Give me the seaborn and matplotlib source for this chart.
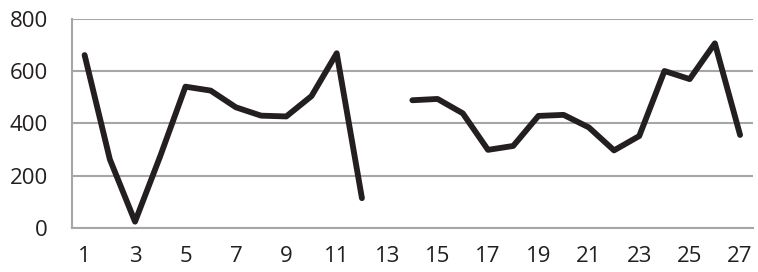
import numpy as np
import pandas as pd
import matplotlib
matplotlib.use("Agg")
import matplotlib.pyplot as plt
from matplotlib.ticker import FixedLocator
import seaborn as sns

# values (13 is missing)
periods = list(range(1, 28))
values = [662, 263, 24, 275, 541, 526, 462, 430, 427, 505, 669, 114, np.nan,
          489, 494, 439, 299, 314, 429, 433, 385, 297, 352, 601, 570, 707, 356]
y_ticks = [0, 200, 400, 600, 800]
x_labels = list(range(1, 28, 2))

df = pd.DataFrame({"period": periods, "value": values})
df["segment"] = df["value"].isna().cumsum()
df = df.dropna()

sns.set_style("white")
plt.rcParams["font.family"] = ["Open Sans", "DejaVu Sans"]

grey = "#a6a6a6"
ink = "#231f20"

fig = plt.figure(figsize=(7.58, 2.72), dpi=100)
ax = fig.add_axes([0.095, 0.162, 0.898, 0.768])

ax.yaxis.grid(True, color=grey, linewidth=1.5)
ax.set_axisbelow(True)

sns.lineplot(data=df, x="period", y="value", units="segment", estimator=None,
             color=ink, linewidth=4.2, ax=ax)

ax.set_xlim(0.5, 27.5)
ax.set_ylim(0, 800)
ax.set_yticks(y_ticks)
ax.set_xticks(x_labels)
ax.xaxis.set_minor_locator(FixedLocator(np.arange(0.5, 28, 1)))
ax.tick_params(axis="x", which="major", length=0, pad=13, labelsize=16, labelcolor=ink)
ax.tick_params(axis="x", which="minor", length=6, width=1.5, color=grey, direction="out")
ax.tick_params(axis="y", length=6.5, width=1.5, color=grey, pad=11, labelsize=16, labelcolor=ink)
ax.set_xlabel("")
ax.set_ylabel("")

for side in ["top", "right"]:
    ax.spines[side].set_visible(False)
for side in ["left", "bottom"]:
    ax.spines[side].set_color(grey)
    ax.spines[side].set_linewidth(1.5)

fig.savefig("out.png", dpi=100)
